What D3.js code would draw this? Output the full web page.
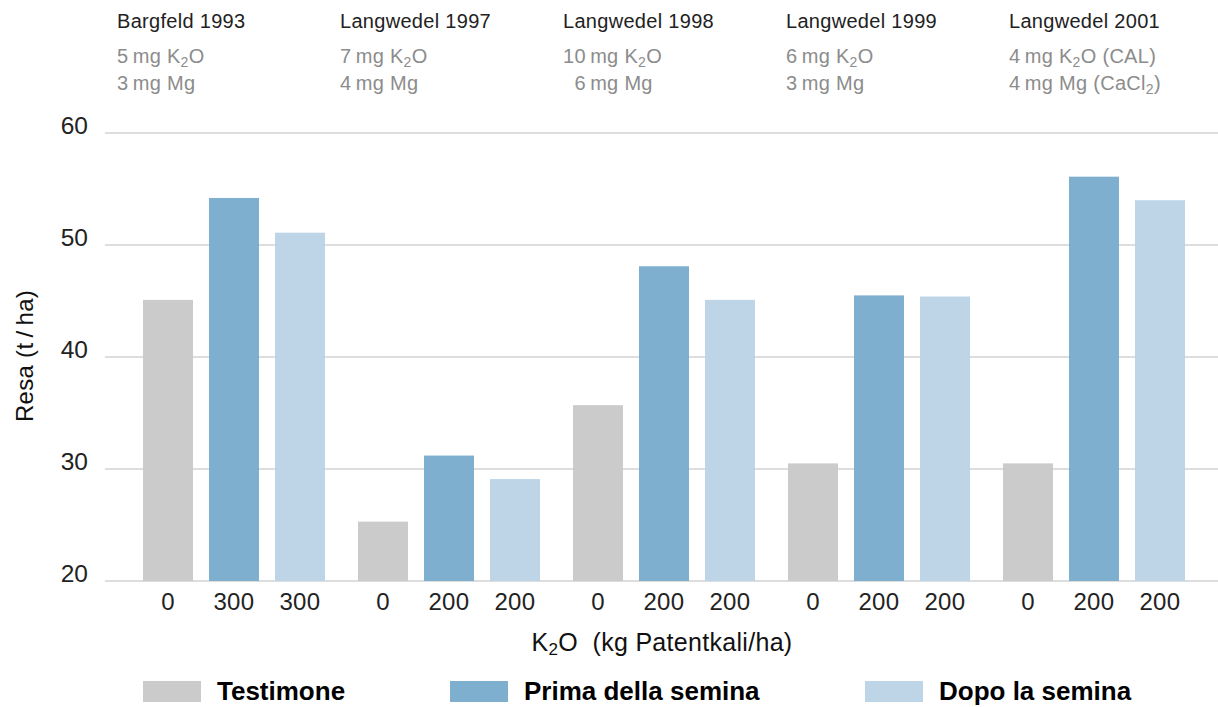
<!DOCTYPE html>
<html>
<head>
<meta charset="utf-8">
<script src="https://cdn.jsdelivr.net/npm/d3@7"></script>
<style>
  html, body { margin: 0; padding: 0; background: #fff; }
  svg { display: block; font-family: "Liberation Sans", Arial, Helvetica, sans-serif; }
</style>
</head>
<body>
<svg id="chart" width="1218" height="707"></svg>
<script>
// ---------- data ----------
const sites = ["Bargfeld 1993", "Langwedel 1997", "Langwedel 1998", "Langwedel 1999", "Langwedel 2001"];
const soilK = [
  [["5\u2009mg K"], ["2", "sub"], ["O"]],
  [["7\u2009mg K"], ["2", "sub"], ["O"]],
  [["10\u2009mg K"], ["2", "sub"], ["O"]],
  [["6\u2009mg K"], ["2", "sub"], ["O"]],
  [["4\u2009mg K"], ["2", "sub"], ["O (CAL)"]]
];
const soilMg = [
  [["3\u2009mg Mg"]],
  [["4\u2009mg Mg"]],
  [["\u20076\u2009mg Mg"]],
  [["3\u2009mg Mg"]],
  [["4\u2009mg Mg (CaCl"], ["2", "sub"], [")"]]
];
const seriesNames = ["Testimone", "Prima della semina", "Dopo la semina"];
const testimone = [45.1, 25.3, 35.7, 30.5, 30.5];
const prima     = [54.2, 31.2, 48.1, 45.5, 56.1];
const dopo      = [51.1, 29.1, 45.1, 45.4, 54.0];
const doseLabels = [["0", "300", "300"], ["0", "200", "200"], ["0", "200", "200"], ["0", "200", "200"], ["0", "200", "200"]];
const yTicks = [20, 30, 40, 50, 60];
const colors = ["#cbcbcb", "#7eafcf", "#bed5e8"];

// ---------- scales ----------
const svg = d3.select("#chart");
const y = d3.scaleLinear().domain([20, 60]).range([581, 133]);
const x0 = d3.scaleBand().domain(sites).range([126.5, 1201.5]).padding(0);
const x1 = d3.scaleBand().domain(seriesNames).range([16.5, 198.5]).paddingInner(16 / 66).paddingOuter(0);

const seriesValues = [testimone, prima, dopo];
const rows = [];
sites.forEach((s, gi) => {
  seriesNames.forEach((n, si) => {
    rows.push({ site: s, series: n, si, gi, value: seriesValues[si][gi], dose: doseLabels[gi][si] });
  });
});

// ---------- gridlines ----------
svg.append("g").selectAll("line").data(yTicks).join("line")
  .attr("x1", 105).attr("x2", 1218)
  .attr("y1", d => y(d)).attr("y2", d => y(d))
  .attr("stroke", "#dddddd").attr("stroke-width", 2);

// y tick labels
svg.append("g").selectAll("text").data(yTicks).join("text")
  .attr("x", 88).attr("y", d => y(d) + 1)
  .attr("text-anchor", "end")
  .attr("font-size", 24.5).attr("fill", "#222")
  .text(d => d);

// ---------- bars ----------
svg.append("g").selectAll("rect").data(rows).join("rect")
  .attr("x", d => x0(d.site) + x1(d.series))
  .attr("width", x1.bandwidth())
  .attr("y", d => y(d.value))
  .attr("height", d => y(20) - y(d.value))
  .attr("fill", d => colors[d.si]);

// x tick labels
svg.append("g").selectAll("text").data(rows).join("text")
  .attr("x", d => x0(d.site) + x1(d.series) + x1.bandwidth() / 2)
  .attr("y", 610)
  .attr("text-anchor", "middle")
  .attr("font-size", 24).attr("letter-spacing", 0.4).attr("fill", "#222")
  .text(d => d.dose);

// ---------- headers ----------
function richText(sel, parts, subSize) {
  let prevSub = false;
  parts.forEach(p => {
    const t = sel.append("tspan").text(p[0]);
    if (p[1] === "sub") {
      t.attr("font-size", subSize).attr("dy", 4);
      prevSub = true;
    } else {
      if (prevSub) t.attr("dy", -4);
      prevSub = false;
    }
  });
}
const hdr = svg.append("g");
sites.forEach((s, i) => {
  const hx = 117 + i * 223;
  hdr.append("text").attr("x", hx).attr("y", 28)
    .attr("font-size", 20).attr("letter-spacing", 0.3).attr("fill", "#222").text(s);
  const t1 = hdr.append("text").attr("x", hx).attr("y", 63)
    .attr("font-size", 20).attr("letter-spacing", 0.3).attr("fill", "#8c8c8c");
  richText(t1, soilK[i], 14);
  const t2 = hdr.append("text").attr("x", hx).attr("y", 90)
    .attr("font-size", 20).attr("letter-spacing", 0.3).attr("fill", "#8c8c8c");
  richText(t2, soilMg[i], 14);
});

// ---------- axis titles ----------
svg.append("text")
  .attr("transform", "translate(33,356) rotate(-90)")
  .attr("text-anchor", "middle")
  .attr("font-size", 24).attr("letter-spacing", 0.3).attr("fill", "#111")
  .text("Resa (t\u2009/\u2009ha)");

const xt = svg.append("text").attr("x", 662).attr("y", 651)
  .attr("text-anchor", "middle").attr("font-size", 25).attr("letter-spacing", 0.3).attr("fill", "#111");
xt.append("tspan").text("K");
xt.append("tspan").text("2").attr("font-size", 17).attr("dy", 4);
xt.append("tspan").text("O\u00a0 (kg Patentkali/ha)").attr("dy", -4);

// ---------- legend ----------
const legendX = [143, 450, 865];
const lg = svg.append("g").selectAll("g").data(seriesNames).join("g")
  .attr("transform", (d, i) => `translate(${legendX[i]},681)`);
lg.append("rect").attr("width", 58).attr("height", 21).attr("fill", (d, i) => colors[i]);
lg.append("text").attr("x", 74).attr("y", 19)
  .attr("font-size", 26).attr("font-weight", "bold").attr("fill", "#000")
  .text(d => d);
</script>
</body>
</html>
